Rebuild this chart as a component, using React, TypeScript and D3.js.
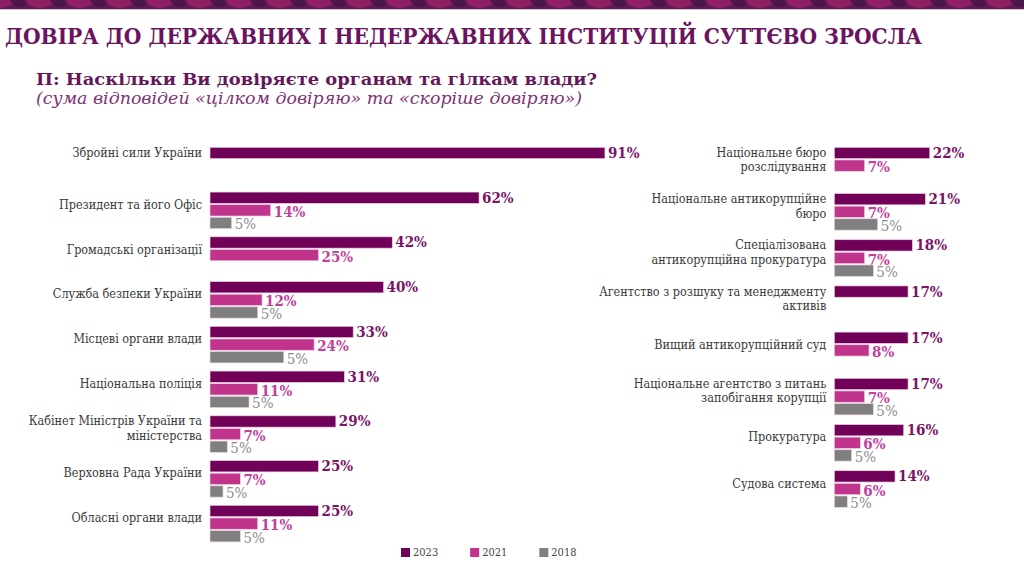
import * as d3 from 'd3'

const years = ['2023', '2021', '2018']
const colors = ['#700058', '#c0348c', '#7f7f7f']
const labelColors = ['#7a1466', '#c2409a', '#8c8c8c']

const leftCategories = [
  'Збройні сили України',
  'Президент та його Офіс',
  'Громадські організації',
  'Служба безпеки України',
  'Місцеві органи влади',
  'Національна поліція',
  'Кабінет Міністрів України та\nміністерства',
  'Верховна Рада України',
  'Обласні органи влади',
]
const left2023 = [91, 62, 42, 40, 33, 31, 29, 25, 25]
const left2021 = [null, 14, 25, 12, 24, 11, 7, 7, 11]
// bar lengths as drawn; printed labels differ (all read "5%")
const left2018 = [null, 5, null, 11, 17, 9, 4, 3, 7]
const left2018Labels = [null, '5%', null, '5%', '5%', '5%', '5%', '5%', '5%']

const rightCategories = [
  'Національне бюро\nрозслідування',
  'Національне антикорупційне\nбюро',
  'Спеціалізована\nантикорупційна прокуратура',
  'Агентство з розшуку та менеджменту\nактивів',
  'Вищий антикорупційний суд',
  'Національне агентство з питань\nзапобігання корупції',
  'Прокуратура',
  'Судова система',
]
const right2023 = [22, 21, 18, 17, 17, 17, 16, 14]
const right2021 = [7, 7, 7, null, 8, 7, 6, 6]
const right2018 = [null, 10, 9, null, null, 9, 4, 3]
const right2018Labels = [null, '5%', '5%', null, null, '5%', '5%', '5%']

const W = 1024
const H = 576
const serif = "'DejaVu Serif Condensed', 'DejaVu Serif', serif"

type Row = { cat: string; vals: (number | null)[]; labels: (string | null)[] }

function buildRows(cats: string[], a: (number | null)[], b: (number | null)[], c: (number | null)[], cl: (string | null)[]): Row[] {
  return cats.map((cat, i) => ({
    cat,
    vals: [a[i], b[i], c[i]],
    labels: [a[i] != null ? `${a[i]}%` : null, b[i] != null ? `${b[i]}%` : null, cl[i]],
  }))
}

const leftRows = buildRows(leftCategories, left2023, left2021, left2018, left2018Labels)
const rightRows = buildRows(rightCategories, right2023, right2021, right2018, right2018Labels)

const xScale = d3.scaleLinear().domain([0, 100]).range([0, 434])
const inner = d3.scaleBand().domain(years).range([0, 36.6]).paddingInner(0.1)

function Panel({ rows, x0, y0, step }: { rows: Row[]; x0: number; y0: number; step: number }) {
  const y = d3.scaleBand()
    .domain(rows.map(r => r.cat))
    .range([y0, y0 + step * rows.length])
    .paddingInner(0)
  const bh = inner.bandwidth()
  return (
    <g>
      {rows.map(r => {
        const gy = y(r.cat)!
        const lines = r.cat.split('\n')
        const nBars = r.vals.filter(v => v != null).length
        const firstLineY = nBars === 1 ? gy + bh / 2 : gy + 12.5 - (lines.length - 1) * 7.2
        return (
          <g key={r.cat}>
            <text
              x={x0 - 8}
              textAnchor="end"
              fontFamily={serif}
              fontSize={12.5}
              fill="#3a3a3a"
            >
              {lines.map((l, i) => (
                <tspan key={i} x={x0 - 8} y={firstLineY + i * 14.5 + 4.3}>{l}</tspan>
              ))}
            </text>
            {r.vals.map((v, i) => {
              if (v == null) return null
              const by = gy + inner(years[i])!
              const w = xScale(v)
              return (
                <g key={i}>
                  <rect x={x0} y={by} width={w} height={bh} fill={colors[i]} stroke="#ecd3e5" strokeWidth={0.7} />
                  <text
                    x={x0 + w + 3}
                    y={by + bh / 2 + (i === 0 ? 5 : 6.5)}
                    fontFamily={serif}
                    fontWeight={i === 2 ? 'normal' : 'bold'}
                    fontSize={15}
                    fill={labelColors[i]}
                  >
                    {r.labels[i]}
                  </text>
                </g>
              )
            })}
          </g>
        )
      })}
    </g>
  )
}

function Banner() {
  const xs = d3.range(0, W + 40, 40)
  return (
    <g>
      <rect x={0} y={0} width={W} height={9} fill="#5e1b55" />
      {xs.map((x, i) => (
        <g key={i}>
          <ellipse cx={x} cy={-4} rx={16} ry={12} fill="#8e1f62" />
          <ellipse cx={x + 20} cy={-6} rx={11} ry={13} fill="#4c1748" />
        </g>
      ))}
      <rect x={0} y={9} width={W} height={1} fill="#d9c4d4" />
    </g>
  )
}

export default function App() {
  const legendX = d3.scalePoint().domain(years).range([401, 539.3])
  return (
    <div style={{ position: 'fixed', left: 0, top: 0, width: W, height: H, background: '#fff' }}>
      <svg width={W} height={H}>
        <defs>
          <clipPath id="bannerClip">
            <rect x={0} y={0} width={W} height={10} />
          </clipPath>
        </defs>
        <g clipPath="url(#bannerClip)">
          <Banner />
        </g>
        <text
          x={5}
          y={44}
          textLength={917}
          lengthAdjust="spacingAndGlyphs"
          fontFamily={serif}
          fontWeight="bold"
          fontSize={23}
          fill="#6a1460"
        >
          ДОВІРА ДО ДЕРЖАВНИХ І НЕДЕРЖАВНИХ ІНСТИТУЦІЙ СУТТЄВО ЗРОСЛА
        </text>
        <text
          x={36}
          y={85}
          textLength={561}
          lengthAdjust="spacingAndGlyphs"
          fontFamily={serif}
          fontWeight="bold"
          fontSize={17}
          fill="#651858"
        >
          П: Наскільки Ви довіряєте органам та гілкам влади?
        </text>
        <text
          x={36}
          y={104}
          textLength={546}
          lengthAdjust="spacingAndGlyphs"
          fontFamily={serif}
          fontStyle="italic"
          fontSize={17}
          fill="#7d3474"
        >
          (сума відповідей «цілком довіряю» та «скоріше довіряю»)
        </text>

        <Panel rows={leftRows} x0={210} y0={147.3} step={44.75} />
        <Panel rows={rightRows} x0={834.3} y0={147.3} step={46.2} />

        {years.map((yr, i) => (
          <g key={yr}>
            <rect x={legendX(yr)!} y={548} width={9} height={9} fill={colors[i]} />
            <text
              x={legendX(yr)! + 12}
              y={556}
              fontFamily={serif}
              fontSize={11}
              fill="#444"
            >
              {yr}
            </text>
          </g>
        ))}
      </svg>
    </div>
  )
}
